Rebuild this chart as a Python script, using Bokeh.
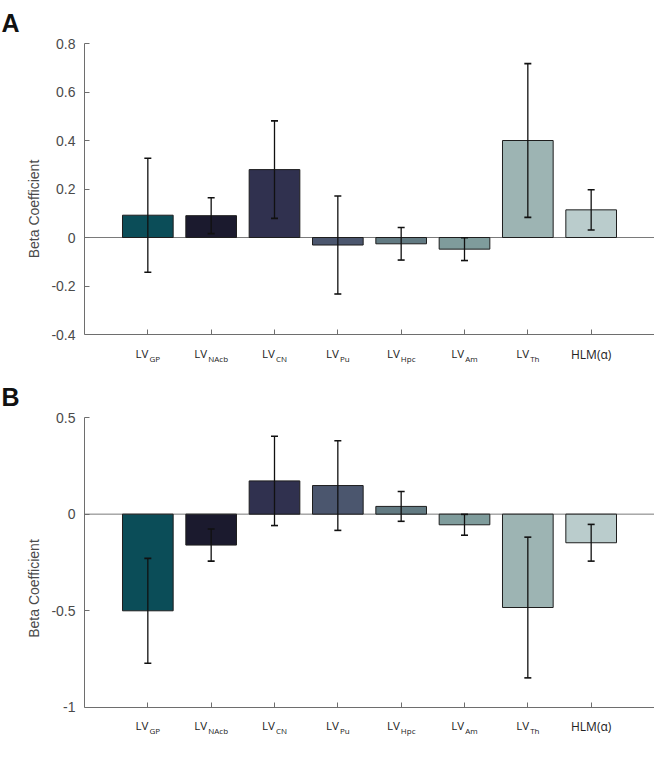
import math
from bokeh.plotting import figure
from bokeh.models import (ColumnDataSource, Whisker, TeeHead, Span, FixedTicker,
                          LinearAxis)
from bokeh.layouts import column
from bokeh.embed import file_html
from bokeh.resources import INLINE

# ---------------- data ----------------
subscripts = ["GP", "NAcb", "CN", "Pu", "Hpc", "Am", "Th"]
extra_label = "HLM(\u03b1)"

beta_a = [0.092, 0.090, 0.280, -0.031, -0.026, -0.048, 0.400, 0.114]
err_a = [0.235, 0.074, 0.201, 0.202, 0.067, 0.047, 0.317, 0.083]

beta_b = [-0.500, -0.160, 0.172, 0.148, 0.040, -0.055, -0.483, -0.148]
err_b = [0.271, 0.083, 0.231, 0.232, 0.077, 0.054, 0.364, 0.095]

bar_colors = ["#0b4d58", "#1b1a2e", "#30314f", "#4b566e",
              "#627a82", "#7f9c9c", "#9db4b3", "#bacccc"]

yticks_a = [-0.4, -0.2, 0, 0.2, 0.4, 0.6, 0.8]
ytick_labels_a = ["-0.4", "-0.2", "0", "0.2", "0.4", "0.6", "0.8"]
yticks_b = [-1, -0.5, 0, 0.5]
ytick_labels_b = ["-1", "-0.5", "0", "0.5"]

# ---------------- layout / style ----------------
W = 654
FL = 84
AX_COL = "#6e6e6e"
TXT_COL = "#4a4a4a"
LBL_COL = "#222222"
LBL_FONT = "Open Sans"
LV_F, SUB_F, HLM_F = 11.5, 8.0, 12.0
# approximate advance widths (em), used only to set the LV / subscript pieces side by side
EM = {"L": .53, "V": .60, "G": .73, "P": .60, "N": .76, "A": .63, "c": .48,
      "b": .61, "C": .63, "u": .61, "H": .74, "p": .61, "m": .93, "T": .56,
      "h": .61}


def text_axis(p, loc, positions, texts, size, standoff):
    ax = LinearAxis(fixed_location=loc)
    ax.ticker = FixedTicker(ticks=positions)
    ax.major_label_overrides = {pos: t for pos, t in zip(positions, texts)}
    ax.major_label_orientation = "horizontal"
    ax.major_label_standoff = int(standoff)
    ax.major_label_text_font = LBL_FONT
    ax.major_label_text_font_size = f"{size}px"
    ax.major_label_text_color = LBL_COL
    ax.axis_line_color = None
    ax.major_tick_line_color = None
    ax.minor_tick_line_color = None
    ax.major_tick_in = 0
    ax.major_tick_out = 0
    p.add_layout(ax, "below")


def panel(letter, beta, err, ylim, yticks, ylabels, height, top, ppy, tstand):
    n = len(beta)
    xs = list(range(1, n + 1))
    src = ColumnDataSource(dict(
        x=xs, beta=beta, color=bar_colors[:n],
        upper=[b + e for b, e in zip(beta, err)],
        lower=[b - e for b, e in zip(beta, err)],
    ))
    fh = height - top
    ybot = ylim[1] - fh / ppy
    p = figure(width=W, height=height, x_range=(0, n + 1), y_range=(ybot, ylim[1]),
               output_backend="svg", toolbar_location=None, title=letter,
               min_border_left=FL, min_border_right=0,
               min_border_top=top, min_border_bottom=0)
    p.grid.visible = False
    p.outline_line_color = None
    p.background_fill_color = "white"

    t = p.title
    t.align = "left"
    t.offset = -FL + 1
    t.standoff = tstand
    t.text_font = "Liberation Sans"
    t.text_font_size = "25px"
    t.text_font_style = "bold"
    t.text_color = "#111111"

    p.add_layout(Span(location=0, dimension="width", line_color="#7a7a7a",
                      line_width=1, level="underlay"))

    p.vbar(x="x", top="beta", bottom=0, width=0.8, fill_color="color",
           line_color="#1e1e1e", line_width=1, source=src)

    p.add_layout(Whisker(
        source=src, base="x", upper="upper", lower="lower",
        line_color="#111111", line_width=1.3, level="overlay",
        upper_head=TeeHead(size=7, line_color="#111111", line_width=1.6),
        lower_head=TeeHead(size=7, line_color="#111111", line_width=1.6)))

    # y axis
    ya = p.yaxis[0]
    ya.bounds = ylim
    ya.ticker = FixedTicker(ticks=yticks)
    ya.major_label_overrides = {float(v): s for v, s in zip(yticks, ylabels)}
    ya.major_tick_in = 5
    ya.major_tick_out = 0
    ya.minor_tick_line_color = None
    ya.axis_line_color = AX_COL
    ya.major_tick_line_color = AX_COL
    ya.major_label_text_font = "Liberation Sans"
    ya.major_label_text_font_size = "14px"
    ya.major_label_text_color = TXT_COL
    ya.major_label_standoff = 9
    ya.axis_label = "Beta Coefficient"
    ya.axis_label_text_font = "Liberation Sans"
    ya.axis_label_text_font_size = "14px"
    ya.axis_label_text_font_style = "normal"
    ya.axis_label_text_color = TXT_COL
    ya.axis_label_standoff = 6

    # x axis with ticks only
    xa = p.xaxis[0]
    xa.fixed_location = ylim[0]
    xa.bounds = (0, n + 1)
    xa.ticker = FixedTicker(ticks=xs)
    xa.major_label_overrides = {i: "" for i in xs}
    xa.major_label_standoff = 0
    xa.major_tick_in = 5
    xa.major_tick_out = 0
    xa.minor_tick_line_color = None
    xa.axis_line_color = AX_COL
    xa.major_tick_line_color = AX_COL

    # category labels "LV" + subscript, set side by side on two label axes
    ppx = (W - FL) / (n + 1)
    wlv = LV_F * (EM["L"] + EM["V"])
    lv_pos, sb_pos = [], []
    for i, sub in enumerate(subscripts):
        ws = SUB_F * sum(EM.get(c, 0.6) for c in sub)
        total = wlv + 1.0 + ws
        lv_pos.append(round(xs[i] + (-total / 2 + wlv / 2) / ppx, 4))
        sb_pos.append(round(xs[i] + (total / 2 - ws / 2) / ppx, 4))
    text_axis(p, ylim[0], lv_pos, ["LV"] * len(subscripts), LV_F, 11)
    text_axis(p, ylim[0], sb_pos, subscripts, SUB_F, 18)
    text_axis(p, ylim[0], [float(xs[-1])], [extra_label], HLM_F, 11)
    return p


p1 = panel("A", beta_a, err_a, (-0.4, 0.8), yticks_a, ytick_labels_a,
           374, 43, 242.5, 13)
p2 = panel("B", beta_b, err_b, (-1.0, 0.5), yticks_b, ytick_labels_b,
           385, 43, 193.3, 13)

layout = column(p1, p2, spacing=0)
open("out.html", "w").write(file_html(layout, INLINE))
